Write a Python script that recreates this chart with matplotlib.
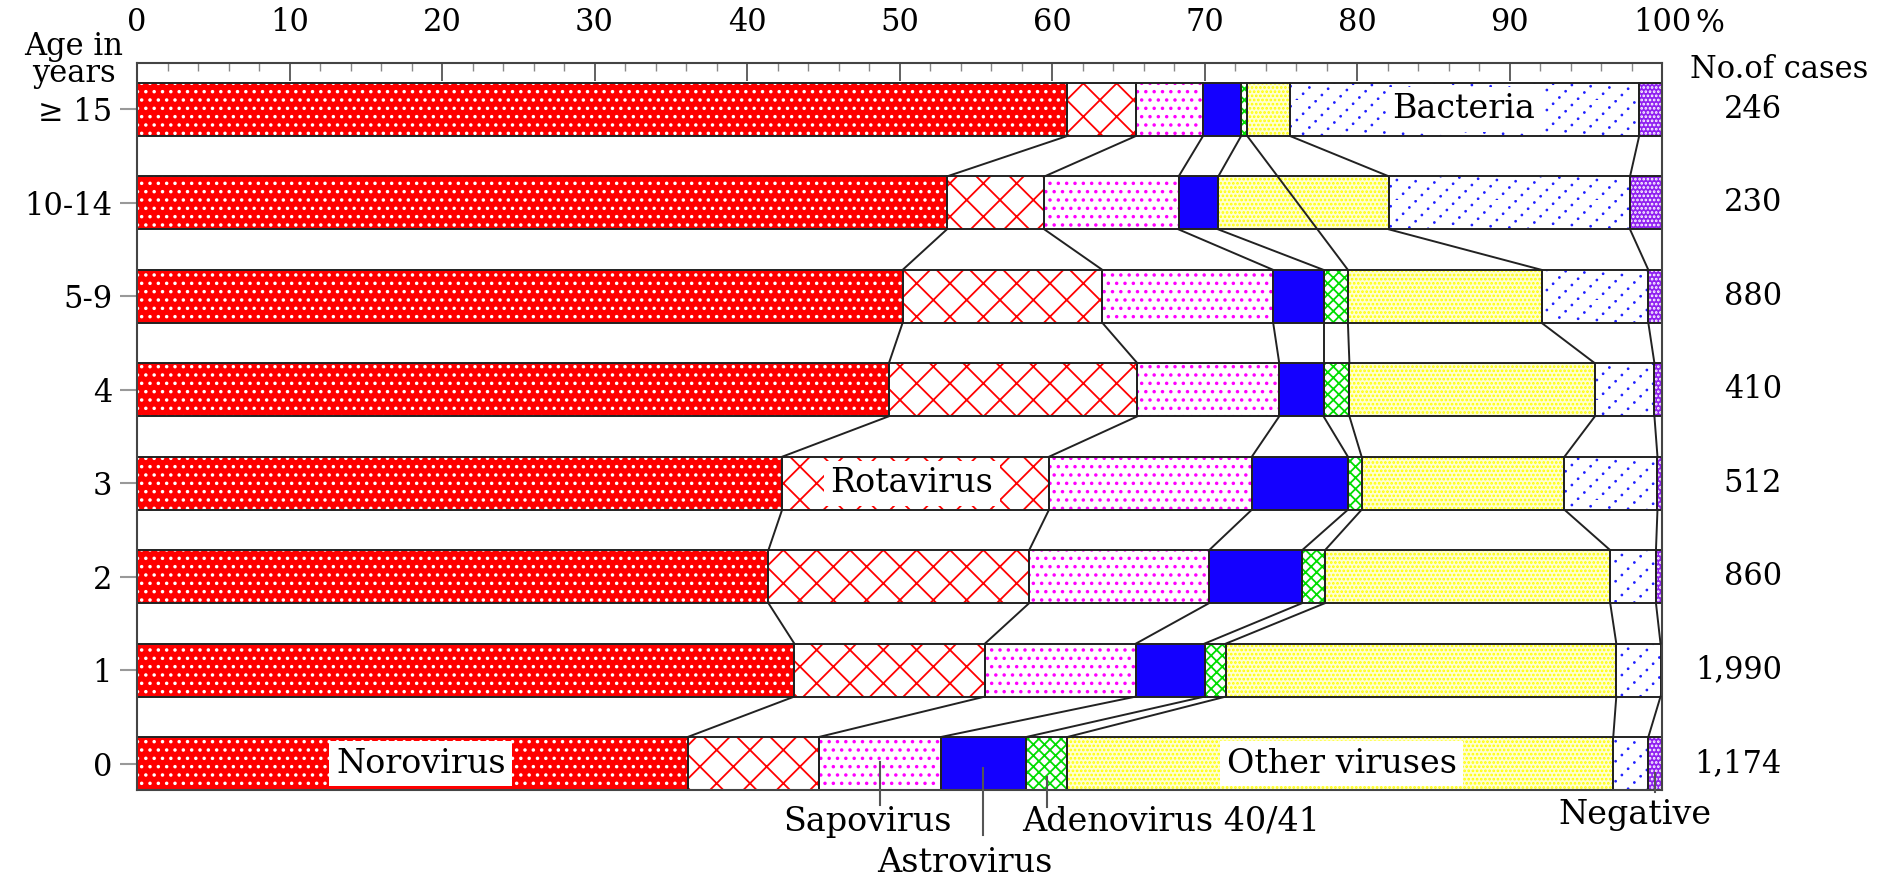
import warnings
import matplotlib
matplotlib.use("Agg")
import matplotlib.pyplot as plt
import matplotlib.transforms as mtransforms
import matplotlib.hatch as mhatch
from matplotlib.path import Path
import numpy as np

plt.rcParams['font.family'] = ['DejaVu Serif']
plt.rcParams['hatch.linewidth'] = 1.3
warnings.filterwarnings('ignore', message='.*hatch.*')


class DottedDiagonal(mhatch.HatchPatternBase):
    # dotted '/' lines, drawn for every 'd' in the hatch string
    lines = 5
    dots = 16
    radius = 0.008

    def __init__(self, hatch, density):
        circ = Path.unit_circle()
        self.shape_vertices = circ.vertices * self.radius
        self.shape_codes = circ.codes
        self.num_vertices = (hatch.count('d') * self.lines * self.dots *
                             len(circ.vertices))

    def set_vertices_and_codes(self, vertices, codes):
        parts_v, parts_c = [], []
        for i in range(self.lines):
            for j in range(self.dots):
                x = (j + 0.5) / self.dots
                y = (x + i / self.lines + 0.5 / self.dots) % 1.0
                parts_v.append(self.shape_vertices + [x, y])
                parts_c.append(self.shape_codes)
        np.concatenate(parts_v, out=vertices)
        np.concatenate(parts_c, out=codes)


mhatch._hatch_types.append(DottedDiagonal)

# age groups, top row first
ages = ['\u2265 15', '10-14', '5-9', '4', '3', '2', '1', '0']
cases = ['246', '230', '880', '410', '512', '860', '1,990', '1,174']

# detection rate (%) per age group
norovirus = [61.0, 53.1, 50.2, 49.3, 42.3, 41.4, 43.1, 36.1]
rotavirus = [4.5, 6.4, 13.1, 16.3, 17.5, 17.1, 12.5, 8.6]
sapovirus = [4.4, 8.8, 11.2, 9.3, 13.3, 11.8, 9.9, 8.0]
astrovirus = [2.5, 2.6, 3.3, 2.9, 6.3, 6.1, 4.5, 5.6]
adenovirus = [0.4, 0.0, 1.6, 1.7, 0.9, 1.5, 1.4, 2.7]
other_viruses = [2.8, 11.2, 12.7, 16.1, 13.3, 18.7, 25.6, 35.8]
bacteria = [22.9, 15.8, 7.0, 3.9, 6.1, 3.0, 2.9, 2.3]
negative = [1.5, 2.1, 0.9, 0.5, 0.3, 0.4, 0.1, 0.9]

series = [norovirus, rotavirus, sapovirus, astrovirus, adenovirus,
          other_viruses, bacteria, negative]
# (face colour, hatch colour, hatch)
styles = [
    ('#ff0000', 'white', '..'),
    ('white', '#ff0000', 'x'),
    ('white', '#ff00ff', '..'),
    ('#1400ff', '#1400ff', ''),
    ('white', '#00dd00', 'xxx'),
    ('#ffffd2', '#ffff00', '....'),
    ('white', '#2020ff', 'd'),
    ('#9020f0', 'white', '....'),
]

vals = np.array(series).T          # rows x categories
cum = np.cumsum(vals, axis=1)
left = cum - vals
n = len(ages)
ypos = np.arange(n)[::-1]
bh = 0.567

fig = plt.figure(figsize=(18.93, 8.77), dpi=100)
ax = fig.add_axes([0.0724, 0.0992, 0.8056, 0.829])

for k, (face, hc, hatch) in enumerate(styles):
    bars = ax.barh(ypos, vals[:, k], left=left[:, k], height=bh, color=face,
                   edgecolor=hc, hatch=hatch, linewidth=0, zorder=2)
    if k == 6:
        for b in bars:
            if hasattr(b, 'set_hatch_linewidth'):
                b.set_hatch_linewidth(0.8)
    ax.barh(ypos, vals[:, k], left=left[:, k], height=bh, fill=False,
            edgecolor='#222222', linewidth=1.4, zorder=2.5)

# connect category boundaries between neighbouring rows
for k in range(len(series) - 1):
    rows = [i for i in range(n) if vals[i, k] > 0]
    for a, b in zip(rows[:-1], rows[1:]):
        ax.plot([cum[a, k], cum[b, k]], [ypos[a] - bh / 2, ypos[b] + bh / 2],
                color='#222222', lw=1.4, zorder=3)

ax.set_xlim(0, 100)
ax.set_ylim(-bh / 2, 7.498)
ax.xaxis.tick_top()
ax.set_xticks(np.arange(0, 101, 10))
ax.set_xticks(np.arange(0, 101, 2), minor=True)
ax.tick_params(axis='x', which='major', direction='in', length=13, width=1.3,
               color='#555555', labelsize=22, pad=18)
ax.tick_params(axis='x', which='minor', direction='in', length=6, width=1,
               color='#888888')
ax.set_yticks(ypos)
ax.set_yticklabels(ages)
ax.tick_params(axis='y', direction='out', length=12, width=1.5,
               color='#999999', labelsize=22, pad=6)
for s in ax.spines.values():
    s.set_color('#444444')
    s.set_linewidth(1.5)

top = mtransforms.blended_transform_factory(ax.transData, fig.transFigure)
ax.text(103.1, 1 - 23 / 877, '%', transform=top, ha='center', va='center',
        fontsize=22)
fig.text(0.039, 1 - 60 / 877, 'Age in\nyears', ha='center', va='center',
         fontsize=22, linespacing=0.8)
fig.text(1779 / 1893, 1 - 70 / 877, 'No.of cases', ha='center', va='center',
         fontsize=22)
right = mtransforms.blended_transform_factory(fig.transFigure, ax.transData)
for y, c in zip(ypos, cases):
    ax.text(1782 / 1893, y, c, transform=right, ha='right', va='center',
            fontsize=22)

# labels inside bars
box = dict(boxstyle='square,pad=0.2', fc='white', ec='none')
ax.text(18.6, ypos[7], 'Norovirus', ha='center', va='center', fontsize=24,
        bbox=box, zorder=4)
ax.text(50.8, ypos[4], 'Rotavirus', ha='center', va='center', fontsize=24,
        bbox=box, zorder=4)
ax.text(79.0, ypos[7], 'Other viruses', ha='center', va='center', fontsize=24,
        bbox=box, zorder=4)
ax.text(87.0, ypos[0], 'Bacteria', ha='center', va='center', fontsize=24,
        bbox=box, zorder=4)

# labels below the bottom row, with leader lines from the bar centres
mid0 = left[7] + vals[7] / 2
leaders = [
    (2, 'Sapovirus', 47.9, -0.623, 0.02, -0.444),
    (3, 'Astrovirus', 54.3, -1.065, -0.048, -0.765),
    (4, 'Adenovirus 40/41', 67.8, -0.623, -0.141, -0.462),
    (7, 'Negative', 98.2, -0.551, -0.10, -0.30),
]
for k, name, tx, ty, y0, y1 in leaders:
    ax.plot([mid0[k], mid0[k]], [y0, y1], color='#555555', lw=1.5,
            zorder=5, clip_on=False)
    ax.text(tx, ty, name, ha='center', va='center', fontsize=24,
            clip_on=False)

fig.savefig('out.png', dpi=100)
